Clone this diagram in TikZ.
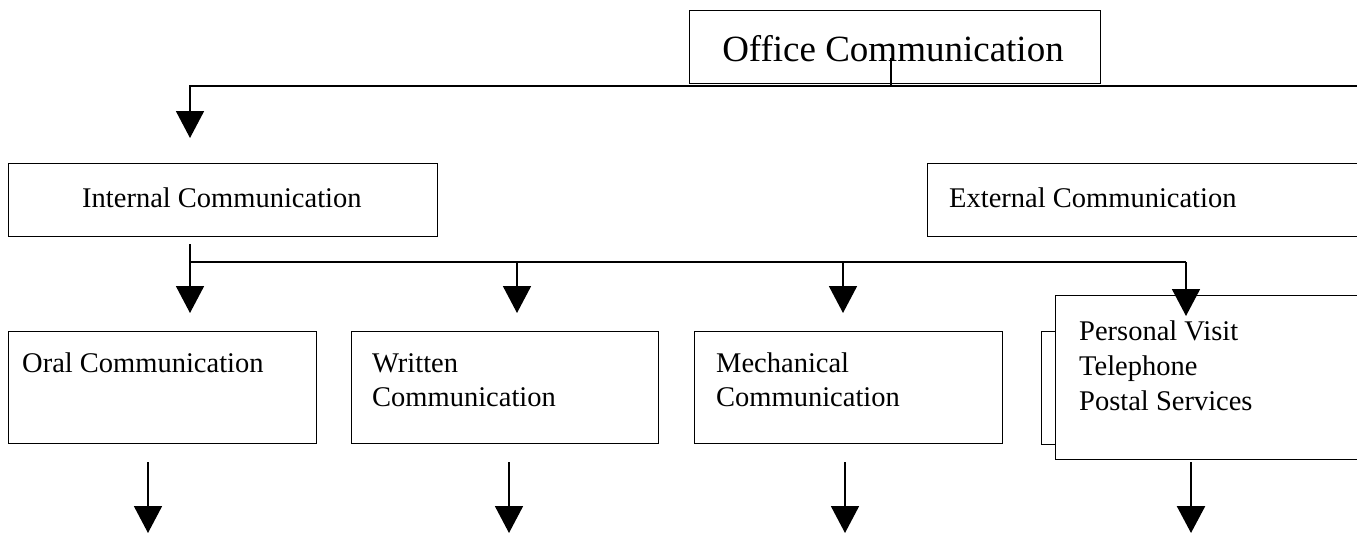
\documentclass[tikz,border=0pt]{standalone}
\usepackage{fontspec}
\setmainfont{Liberation Serif}
\usetikzlibrary{arrows.meta}
\begin{document}
\begin{tikzpicture}[x=1pt,y=-1pt,
  box/.style={draw, line width=1.3pt, fill=white, anchor=north west, inner sep=0pt},
  conn/.style={line width=1.8pt},
  arr/.style={conn, -{Triangle[width=28pt,length=27pt]}},
  lbl/.style={anchor=base west, inner sep=0pt, font=\fontsize{28.5}{34}\selectfont},
]
\useasboundingbox (0,0) rectangle (1357,533);
\clip (0,0) rectangle (1357,533);
\fill[white] (0,0) rectangle (1357,533);

% boxes
\node[box, minimum width=411pt, minimum height=73pt] (office) at (689,10) {};
\node[box, minimum width=429pt, minimum height=73pt] (internal) at (8,163) {};
\node[box, minimum width=450pt, minimum height=73pt] (external) at (927,163) {};
\node[box, minimum width=308pt, minimum height=112pt] (oral) at (8,331) {};
\node[box, minimum width=307pt, minimum height=112pt] (written) at (351,331) {};
\node[box, minimum width=308pt, minimum height=112pt] (mech) at (694,331) {};
\node[box, minimum width=308pt, minimum height=113pt] (hidden) at (1041,331) {};
\node[box, minimum width=330pt, minimum height=164pt] (personal) at (1055,295) {};

% texts
\node[anchor=base, inner sep=0pt, font=\fontsize{37}{44}\selectfont] (officet) at (893,61) {Office Communication};
\node[lbl] (internalt) at (82,207) {Internal Communication};
\node[lbl] (externalt) at (949,207) {External Communication};
\node[lbl] (oralt) at (22,372) {Oral Communication};
\node[lbl] (writtent1) at (372,372) {Written};
\node[lbl] (writtent2) at (372,406) {Communication};
\node[lbl] (mecht1) at (716,372) {Mechanical};
\node[lbl] (mecht2) at (716,406) {Communication};
\node[lbl] (pv) at (1079,340) {Personal Visit};
\node[lbl] (tel) at (1079,375) {Telephone};
\node[lbl] (post) at (1079,410) {Postal Services};

% coordinates
\coordinate (os) at (891,58);
\coordinate (oj) at (891,86);
\coordinate (er) at (1370,86);
\coordinate (itip) at (190,138);
\coordinate (is) at (190,244);
\coordinate (j1) at (190,262);
\coordinate (j2) at (517,262);
\coordinate (j3) at (843,262);
\coordinate (j4) at (1186,262);
\coordinate (t1) at (190,313);
\coordinate (t2) at (517,313);
\coordinate (t3) at (843,313);
\coordinate (t4) at (1186,316);
\coordinate (b1s) at (148,462);
\coordinate (b1) at (148,533);
\coordinate (b2s) at (509,462);
\coordinate (b2) at (509,533);
\coordinate (b3s) at (845,462);
\coordinate (b3) at (845,533);
\coordinate (b4s) at (1191,462);
\coordinate (b4) at (1191,533);

% connectors
\draw[conn] (os) -- (oj) -- (er);
\draw[arr] (oj) -| (itip);
\draw[conn] (j1) -- (j4);
\draw[arr] (is) -- (t1);
\draw[arr] (j2) -- (t2);
\draw[arr] (j3) -- (t3);
\draw[arr] (j4) -- (t4);
\draw[arr] (b1s) -- (b1);
\draw[arr] (b2s) -- (b2);
\draw[arr] (b3s) -- (b3);
\draw[arr, line width=2.6pt] (b4s) -- (b4);
\end{tikzpicture}
\end{document}
